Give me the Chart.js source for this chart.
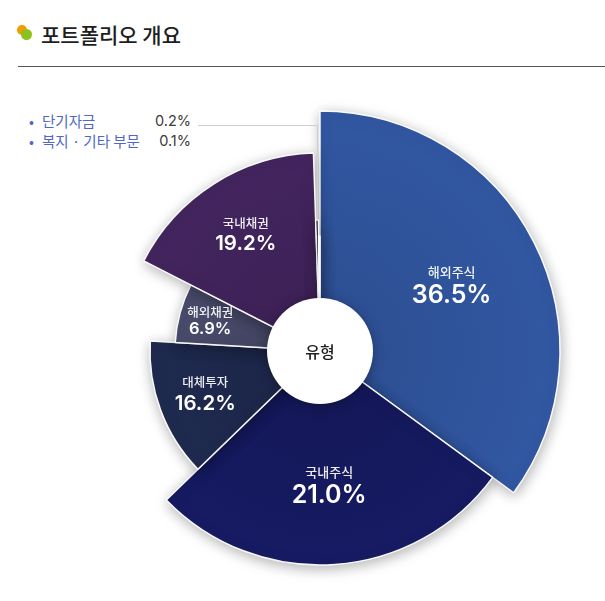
<!DOCTYPE html>
<html><head><meta charset="utf-8">
<script src="https://cdn.jsdelivr.net/npm/chart.js@4.4.1/dist/chart.umd.min.js"></script>
<style>
html,body{margin:0;padding:0;width:605px;height:601px;overflow:hidden;background:#fff;font-family:"Noto Sans CJK KR","Noto Sans",sans-serif;}
#title{position:absolute;left:41px;top:19px;font-size:21px;font-weight:500;color:#1E1E1E;line-height:30px;white-space:nowrap;}
.dot{position:absolute;border-radius:50%;}
#rule{position:absolute;left:18px;top:66px;width:587px;height:1px;background:#555;}
#legend{position:absolute;left:28px;top:111px;width:163px;font-size:14.5px;line-height:20px;}
.row{display:flex;justify-content:space-between;white-space:nowrap;}
.nm{color:#4F67C6;}
.nm b{font-weight:normal;display:inline-block;width:13px;text-align:left;padding-left:1px;}
.val{color:#3A3A3A;font-family:Inter,"Noto Sans",sans-serif;font-size:14.5px;}
#wrap{position:absolute;left:50px;top:81px;width:540px;height:540px;}
</style></head>
<body>
<div class="dot" style="left:17px;top:25px;width:10px;height:10px;background:#F39A00;"></div>
<div class="dot" style="left:21px;top:29px;width:11px;height:11px;background:#8CC21E;"></div>
<div id="title">포트폴리오 개요</div>
<div id="rule"></div>
<div id="legend"></div>
<div id="wrap"><canvas id="c" width="540" height="540"></canvas></div>
<script>
const categories = ['해외주식','국내주식','대체투자','해외채권','국내채권','단기자금','복지 · 기타 부문'];
const shares = [36.5, 21.0, 16.2, 6.9, 19.2, 0.2, 0.1];
const sliceAngles = [126.2, 99.7, 47.5, 23.7, 61.0, 1.2, 0.7];
const sliceRadii = [240, 214, 170, 145, 198, 131, 115];
const sliceColors = ['#3258A3','#161B63','#1F2A50','#4A4C6C','#44255F','#151515','#9A9A9A'];
const legendItems = [5, 6];
const centerLabel = '유형';

// legend (small slices)
const lg = document.getElementById('legend');
legendItems.forEach(i => {
  const r = document.createElement('div'); r.className = 'row';
  r.innerHTML = '<span class="nm"><b>•</b>' + categories[i] + '</span><span class="val">' + shares[i].toFixed(1) + '%</span>';
  lg.appendChild(r);
});

const labelCfg = {
  frac: [0.615, 0.625, 0.72, 0.785, 0.70],
  nameSize: [13, 13, 12.5, 12.5, 12.5],
  pctSize: [25, 25, 20.5, 16.5, 20.5],
  gap: [12, 12, 11, 9, 11]
};

function shade(hex, f){
  const n = parseInt(hex.slice(1),16);
  const r = Math.round(((n>>16)&255)*f), g = Math.round(((n>>8)&255)*f), b = Math.round((n&255)*f);
  return 'rgb('+r+','+g+','+b+')';
}

const FONT = '"Noto Sans CJK KR","Noto Sans",sans-serif';
const NUMFONT = 'Inter,"Noto Sans",sans-serif';

const decor = {
  id: 'decor',
  beforeDatasetsDraw(chart){
    const c = chart.ctx; c.save();
    c.shadowColor = 'rgba(0,0,0,0.30)'; c.shadowBlur = 14; c.shadowOffsetX = 1; c.shadowOffsetY = 3;
  },
  afterDatasetsDraw(chart){
    const c = chart.ctx; c.restore();
    const meta = chart.getDatasetMeta(0);
    const sc = chart.scales.r;
    const cx = sc.xCenter, cy = sc.yCenter;
    // leader line to legend
    const el5 = meta.data[5];
    const m5 = (el5.startAngle + el5.endAngle)/2;
    const tx = cx + Math.cos(m5)*el5.outerRadius, ty = cy + Math.sin(m5)*el5.outerRadius;
    c.save();
    c.strokeStyle = '#CFCFCF'; c.lineWidth = 1;
    c.beginPath(); c.moveTo(Math.round(tx)+0.5, ty); c.lineTo(Math.round(tx)+0.5, 44.5); c.lineTo(148, 44.5); c.stroke();
    c.restore();
    // center circle
    c.save();
    c.shadowColor = 'rgba(0,0,0,0.30)'; c.shadowBlur = 12; c.shadowOffsetY = 2;
    c.fillStyle = '#fff';
    c.beginPath(); c.arc(cx, cy, 53, 0, Math.PI*2); c.fill();
    c.restore();
    c.save();
    c.fillStyle = '#1E1E1E'; c.font = '500 16px ' + FONT;
    c.textAlign = 'center'; c.textBaseline = 'middle';
    c.fillText(centerLabel, cx, cy + 1);
    // slice labels
    for (let i = 0; i < 5; i++){
      const el = meta.data[i];
      const mid = (el.startAngle + el.endAngle)/2;
      const r = el.outerRadius * labelCfg.frac[i];
      const x = cx + Math.cos(mid)*r, y = cy + Math.sin(mid)*r;
      c.fillStyle = 'rgba(255,255,255,0.92)';
      c.font = '500 ' + labelCfg.nameSize[i] + 'px ' + FONT;
      c.fillText(categories[i], x, y - labelCfg.gap[i]);
      c.fillStyle = '#fff';
      c.font = '600 ' + labelCfg.pctSize[i] + 'px ' + NUMFONT;
      c.fillText(shares[i].toFixed(1) + '%', x, y + labelCfg.gap[i] - 1);
    }
    c.restore();
  }
};

new Chart(document.getElementById('c'), {
  type: 'polarArea',
  data: {
    labels: categories,
    datasets: [{
      data: sliceRadii,
      angle: ctx => sliceAngles[ctx.dataIndex],
      backgroundColor: ctx => {
        const base = sliceColors[ctx.dataIndex];
        const ch = ctx.chart, sc = ch.scales && ch.scales.r;
        if (!ch.chartArea || !sc || sc.xCenter === undefined) return base;
        const g = ch.ctx.createRadialGradient(sc.xCenter, sc.yCenter, 50, sc.xCenter, sc.yCenter, Math.max(60, sliceRadii[ctx.dataIndex]));
        g.addColorStop(0, shade(base, 0.9));
        g.addColorStop(1, base);
        return g;
      },
      borderColor: 'rgba(255,255,255,0.95)',
      borderWidth: 1.5
    }]
  },
  options: {
    responsive: false,
    animation: false,
    layout: { padding: 30 },
    scales: { r: { display: false, min: 0, max: 240 } },
    plugins: { legend: { display: false }, tooltip: { enabled: false } }
  },
  plugins: [decor]
});
</script>
</body></html>
